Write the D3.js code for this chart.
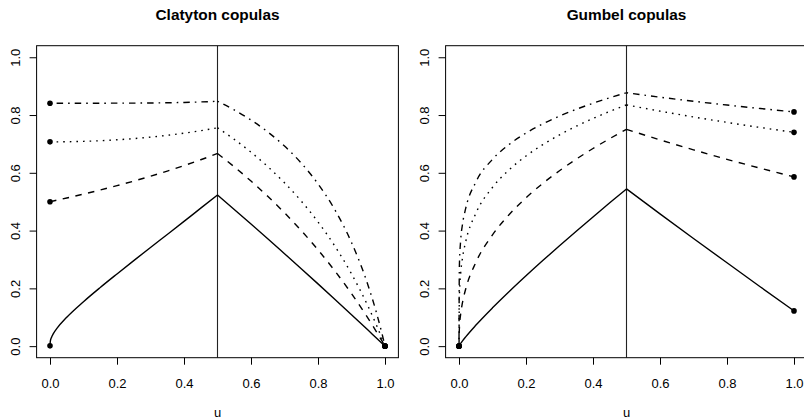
<!DOCTYPE html>
<html>
<head>
<meta charset="utf-8">
<script src="https://cdn.jsdelivr.net/npm/d3@7"></script>
<style>
  html, body { margin: 0; padding: 0; background: #fff; }
  svg { display: block; font-family: "Liberation Sans", Arial, Helvetica, sans-serif; }
</style>
</head>
<body>
<svg id="chart" width="804" height="418"></svg>
<script>
// ---------- data ----------
const panelTitles = ["Clatyton copulas", "Gumbel copulas"];
const xLabel = "u";
const tickValues = [0, 0.2, 0.4, 0.6, 0.8, 1.0];
const splitU = 0.5;

const claytonThetas = [0.1, 1, 2, 4];
const claytonU = [0, 0.001, 0.005, 0.01, 0.02, 0.05, 0.1, 0.15, 0.2, 0.25, 0.3, 0.35, 0.4, 0.45, 0.5,
                  0.55, 0.6, 0.65, 0.7, 0.75, 0.8, 0.85, 0.9, 0.95, 0.975, 0.99, 1];
const clayton01 = [0.001, 0.0175, 0.0319, 0.0433, 0.0605, 0.1000, 0.1540, 0.2031, 0.2500, 0.2961, 0.3416, 0.3866, 0.4318, 0.4776, 0.5230,
                   0.4730, 0.4227, 0.3718, 0.3201, 0.2682, 0.2156, 0.1626, 0.1090, 0.0548, 0.0273, 0.0109, 0];
const clayton1  = [0.5000, 0.5003, 0.5013, 0.5025, 0.5051, 0.5128, 0.5263, 0.5405, 0.5556, 0.5714, 0.5882, 0.6061, 0.6250, 0.6452, 0.6667,
                   0.6207, 0.5714, 0.5185, 0.4615, 0.4000, 0.3333, 0.2609, 0.1818, 0.0952, 0.0488, 0.0198, 0];
const clayton2  = [0.7071, 0.7071, 0.7071, 0.7071, 0.7072, 0.7076, 0.7089, 0.7111, 0.7143, 0.7184, 0.7236, 0.7298, 0.7372, 0.7459, 0.7559,
                   0.7159, 0.6713, 0.6215, 0.5655, 0.5022, 0.4300, 0.3469, 0.2503, 0.1364, 0.0714, 0.0294, 0];
const clayton4  = [0.8409, 0.8409, 0.8409, 0.8409, 0.8409, 0.8409, 0.8409, 0.8410, 0.8411, 0.8413, 0.8418, 0.8425, 0.8436, 0.8453, 0.8476,
                   0.8176, 0.7827, 0.7415, 0.6925, 0.6337, 0.5619, 0.4727, 0.3589, 0.2085, 0.1137, 0.0481, 0];

const gumbelThetas = [1.1, 2, 3, 4];
const gumbelU = [0, 0.001, 0.005, 0.01, 0.02, 0.05, 0.1, 0.15, 0.2, 0.25, 0.3, 0.35, 0.4, 0.45, 0.5,
                 0.6, 0.7, 0.8, 0.9, 1];
const gumbel11 = [0, 0.0023, 0.0095, 0.0175, 0.0322, 0.0721, 0.1325, 0.1891, 0.2434, 0.2961, 0.3475, 0.3978, 0.4473, 0.4961, 0.5442,
                  0.4579, 0.3727, 0.2885, 0.2049, 0.1220];
const gumbel2  = [0, 0.0572, 0.1114, 0.1485, 0.1978, 0.2891, 0.3853, 0.4558, 0.5134, 0.5631, 0.6073, 0.6473, 0.6842, 0.7184, 0.7505,
                  0.7140, 0.6795, 0.6467, 0.6157, 0.5858];
const gumbel3  = [0, 0.1661, 0.2523, 0.3021, 0.3617, 0.4590, 0.5497, 0.6108, 0.6582, 0.6975, 0.7313, 0.7612, 0.7881, 0.8126, 0.8351,
                  0.8135, 0.7934, 0.7745, 0.7568, 0.7401];
const gumbel4  = [0, 0.2706, 0.3670, 0.4184, 0.4770, 0.5673, 0.6468, 0.6984, 0.7375, 0.7693, 0.7963, 0.8199, 0.8408, 0.8598, 0.8771,
                  0.8618, 0.8477, 0.8346, 0.8224, 0.8108];

// line types (R lty 1..4)
const lineDash = [null, "6.5,6.5", "1.6,5", "1.6,5,6.5,5"];

// ---------- layout ----------
const svg = d3.select("#chart");
const panelLeft = [36.6, 445.6];
const panelTop = 45.7;
const panelW = 361.8;
const panelH = 312.0;
const font = 13;

const panels = [
  { title: panelTitles[0], u: claytonU, series: [clayton01, clayton1, clayton2, clayton4] },
  { title: panelTitles[1], u: gumbelU,  series: [gumbel11, gumbel2, gumbel3, gumbel4] }
];

panels.forEach((p, pi) => {
  const x0 = panelLeft[pi];
  const x = d3.scaleLinear().domain([-0.04, 1.04]).range([x0, x0 + panelW]);
  const y = d3.scaleLinear().domain([-0.04, 1.04]).range([panelTop + panelH, panelTop]);
  const g = svg.append("g");

  // title
  g.append("text")
    .attr("x", x0 + panelW / 2).attr("y", 19.5)
    .attr("text-anchor", "middle")
    .attr("font-weight", "bold").attr("font-size", 15.4)
    .text(p.title);

  // x axis
  const xa = g.append("g")
    .attr("transform", `translate(0,${panelTop + panelH})`)
    .call(d3.axisBottom(x).tickValues(tickValues).tickSize(7).tickPadding(13.6).tickFormat(d3.format(".1f")));
  xa.select(".domain").remove();
  xa.selectAll("line").attr("stroke", "#000");
  xa.selectAll("text").attr("font-size", font).attr("font-family", null).attr("fill", "#000");

  // y axis
  const ya = g.append("g")
    .attr("transform", `translate(${x0},0)`)
    .call(d3.axisLeft(y).tickValues(tickValues).tickSize(7).tickFormat(d3.format(".1f")));
  ya.select(".domain").remove();
  ya.selectAll("line").attr("stroke", "#000");
  ya.selectAll("text")
    .attr("font-size", font).attr("font-family", null).attr("fill", "#000")
    .attr("transform", "rotate(-90)")
    .attr("x", 0).attr("y", -17).attr("dy", null)
    .attr("text-anchor", "middle");

  // x label
  g.append("text")
    .attr("x", x0 + panelW / 2).attr("y", 416.5)
    .attr("text-anchor", "middle").attr("font-size", font)
    .text(xLabel);

  // clip
  const clipId = "clip" + pi;
  svg.append("clipPath").attr("id", clipId)
    .append("rect").attr("x", x0).attr("y", panelTop).attr("width", panelW).attr("height", panelH);

  const plot = g.append("g").attr("clip-path", `url(#${clipId})`);

  // vertical reference line
  plot.append("line")
    .attr("x1", x(splitU)).attr("x2", x(splitU))
    .attr("y1", panelTop).attr("y2", panelTop + panelH)
    .attr("stroke", "#222").attr("stroke-width", 1.1);

  const line = d3.line().x(d => x(d[0])).y(d => y(d[1])).curve(d3.curveMonotoneX);

  p.series.forEach((vals, si) => {
    const pts = p.u.map((u, i) => [u, vals[i]]);
    const lower = pts.filter(d => d[0] <= splitU);
    const upper = pts.filter(d => d[0] >= splitU);
    plot.append("path")
      .attr("d", line(lower) + line(upper))
      .attr("fill", "none")
      .attr("stroke", "#000")
      .attr("stroke-width", 1.4)
      .attr("stroke-dasharray", lineDash[si]);
    // end points
    [pts[0], pts[pts.length - 1]].forEach(d => {
      plot.append("circle")
        .attr("cx", x(d[0])).attr("cy", y(d[1])).attr("r", 2.8)
        .attr("fill", "#000");
    });
  });

  // box
  g.append("rect")
    .attr("x", x0).attr("y", panelTop).attr("width", panelW).attr("height", panelH)
    .attr("fill", "none").attr("stroke", "#000").attr("stroke-width", 1);
});
</script>
</body>
</html>
